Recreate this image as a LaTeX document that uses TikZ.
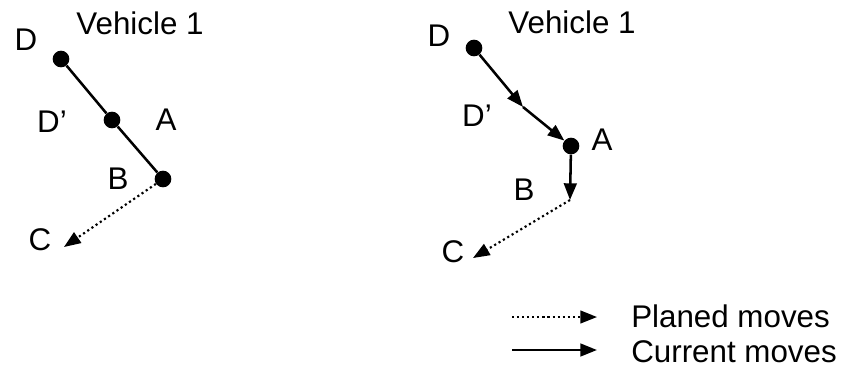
\documentclass[tikz,border=0pt]{standalone}
\usepackage{fontspec}
\setmainfont{Liberation Sans}
\usetikzlibrary{arrows.meta}
\begin{document}
\begin{tikzpicture}[x=0.75pt,y=-0.75pt,
  lbl/.style={font=\fontsize{23.5}{27}\selectfont, inner sep=0pt},
  dotnode/.style={circle, fill=black, minimum size=12.5pt, inner sep=0pt},
  path/.style={line width=1.9pt},
  cur/.style={line width=1.9pt, -{Triangle[length=12.5pt,width=9.5pt]}},
  plan/.style={line width=1.6pt, dash pattern=on 1.6pt off 2.2pt, -{Triangle[length=12.5pt,width=9.5pt]}}]
\useasboundingbox (0,0) rectangle (842,371);
% left figure
\node[lbl] (lDt) at (26,40) {D};
\node[lbl] (lV) at (140,23) {Vehicle 1};
\node[lbl] (lDpt) at (52,122) {D’};
\node[lbl] (lAt) at (166,120) {A};
\node[lbl] (lBt) at (118,179) {B};
\node[lbl] (lCt) at (40,240) {C};
\node[dotnode] (LD) at (61,59) {};
\node[dotnode] (LDp) at (112,120) {};
\node[dotnode] (LB) at (163,179) {};
\coordinate (LC) at (64,247);
\draw[path] (LD) -- (LDp) -- (LB);
\draw[plan] (LB) -- (LC);
% right figure
\node[lbl] (rDt) at (439,36) {D};
\node[lbl] (rV) at (572,22) {Vehicle 1};
\node[lbl] (rDpt) at (477,116) {D’};
\node[lbl] (rAt) at (602,140) {A};
\node[lbl] (rBt) at (524,190) {B};
\node[lbl] (rCt) at (453,252) {C};
\node[dotnode] (RD) at (474,48) {};
\coordinate (RP) at (523,107);
\node[dotnode] (RA) at (571,146) {};
\coordinate (RB) at (570,200);
\coordinate (RC) at (473,258);
\draw[cur] (RD) -- (RP);
\draw[cur] (RP) -- (RA);
\draw[cur] (RA) -- (RB);
\draw[plan] (RB) -- (RC);
% legend
\coordinate (P1) at (512,317);
\coordinate (P2) at (597,317);
\coordinate (C1) at (512,350);
\coordinate (C2) at (597,350);
\draw[plan] (P1) -- (P2);
\draw[cur] (C1) -- (C2);
\node[lbl, anchor=base west] (lp) at (631,327) {Planed moves};
\node[lbl, anchor=base west] (lc) at (631,362) {Current moves};
\end{tikzpicture}
\end{document}
